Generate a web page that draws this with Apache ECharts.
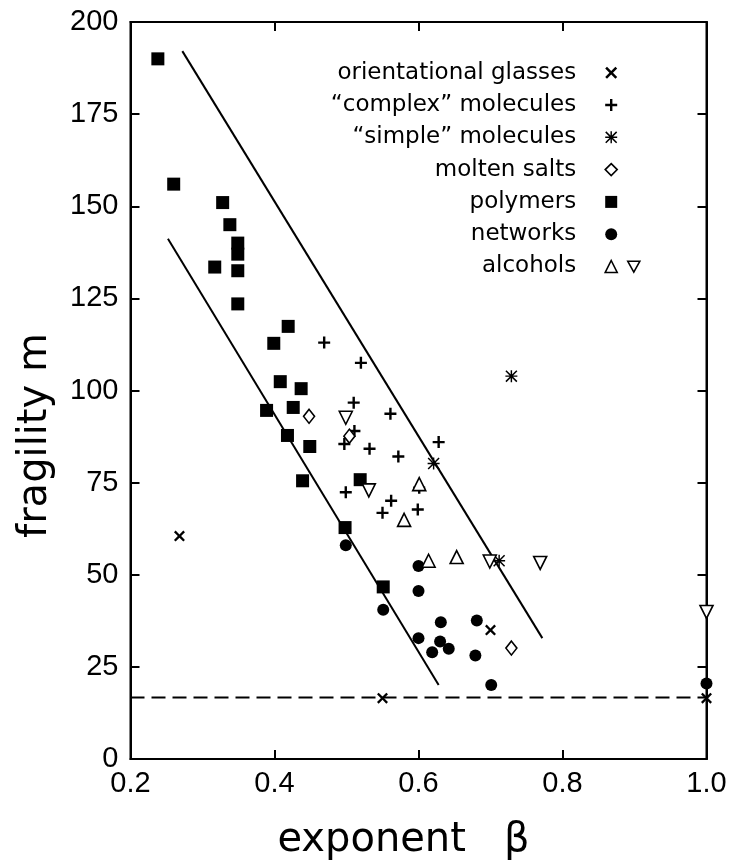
<!DOCTYPE html>
<html>
<head>
<meta charset="utf-8">
<script src="https://cdn.jsdelivr.net/npm/echarts/dist/echarts.min.js"></script>
<style>
html,body{margin:0;padding:0;background:#fff;}
#chart{width:730px;height:867px;}
</style>
</head>
<body>
<div id="chart"></div>
<script>
// ---- data (beta, fragility m) ----
var orientationalGlasses = [[0.268,60.5],[0.198,14.2],[0.550,16.5],[0.700,35.0],[1.0,16.5]];
var complexMolecules = [[0.469,113.0],[0.520,107.5],[0.510,96.7],[0.561,93.7],[0.628,86.0],[0.511,89.0],
  [0.497,85.5],[0.532,84.2],[0.572,82.1],[0.499,72.4],[0.601,73.6],[0.562,70.1],[0.550,66.8],[0.599,67.7]];
var simpleMolecules = [[0.729,103.9],[0.621,80.2],[0.712,53.8]];
var moltenSalts = [[0.448,93.0],[0.504,87.6],[0.729,30.1]];
var polymers = [[0.238,190],[0.260,156],[0.328,151],[0.338,145],[0.349,140],[0.349,137],[0.317,133.5],
  [0.349,132.5],[0.349,123.5],[0.419,117.4],[0.399,112.8],[0.408,102.4],[0.437,100.5],[0.389,94.6],
  [0.426,95.4],[0.418,87.8],[0.449,84.8],[0.439,75.5],[0.519,75.8],[0.498,62.8],[0.551,46.7]];
var networks = [[0.499,58.0],[0.551,40.5],[0.600,52.4],[0.600,45.6],[0.600,32.8],[0.631,37.1],[0.619,29.0],
  [0.630,31.9],[0.642,29.9],[0.681,37.6],[0.679,28.1],[0.701,20.1],[1.0,20.5]];
var alcoholsUp = [[0.601,74.6],[0.580,64.9],[0.614,53.8],[0.653,54.8]];
var alcoholsDown = [[0.499,92.6],[0.531,72.9],[0.699,53.6],[0.769,53.2],[1.0,39.9]];
var upperBound = [[0.272,192.1],[0.772,32.8]];
var lowerBound = [[0.252,141.2],[0.628,20.1]];
var limitLine = [[0.2,16.7],[1.0,16.7]];

var names = ['orientational glasses','“complex” molecules','“simple” molecules','molten salts','polymers','networks','alcohols'];
var xTicks = {min:0.2, max:1.0, interval:0.2};
var yTicks = {min:0, max:200, interval:25};

// ---- symbols ----
var SYM_X = 'path://M0,1.5L1.5,0L5,3.5L8.5,0L10,1.5L6.5,5L10,8.5L8.5,10L5,6.5L1.5,10L0,8.5L3.5,5Z';
var SYM_PLUS = 'path://M4,0H6V4H10V6H6V10H4V6H0V4H4Z';
var SYM_AST = 'path://M4.4,0H5.6V10H4.4Z M0,4.4H10V5.6H0Z M0,0.9L0.9,0L10,9.1L9.1,10Z M9.1,0L10,0.9L0.9,10L0,9.1Z';
var SYM_DOWN = 'path://M0,0L10,0L5,9Z';

var black = '#000';
var hollow = {color:'#fff', borderColor:black, borderWidth:1.6, opacity:1};
var solid = {color:black, opacity:1};

var chart = echarts.init(document.getElementById('chart'), null, {renderer:'canvas'});

function axisCommon(extra){
  var o = {
    type:'value',
    show:true,
    axisLine:{show:true, onZero:false, lineStyle:{color:black, width:2, opacity:1}},
    axisTick:{show:true, inside:true, length:9, lineStyle:{color:black, width:2, opacity:1}},
    splitLine:{show:false}
  };
  for (var k in extra) o[k] = extra[k];
  return o;
}

function scatter(name, data, symbol, size, style){
  return {type:'scatter', name:name, data:data, symbol:symbol, symbolSize:size,
    itemStyle:style, z:3, emphasis:{disabled:true}};
}

var option = {
  animation:false,
  backgroundColor:'#fff',
  grid:{left:130.5, right:23.5, top:22, bottom:108, show:true, borderColor:black, borderWidth:2,
        backgroundColor:'transparent'},
  xAxis:[
    axisCommon({min:xTicks.min, max:xTicks.max, interval:xTicks.interval, position:'bottom',
      axisLabel:{color:black, fontSize:29, fontFamily:'Liberation Sans', margin:10,
        formatter:function(v){return v.toFixed(1);}},
      name:'exponent   β', nameLocation:'middle', nameGap:62,
      nameTextStyle:{fontFamily:'DejaVu Sans', fontSize:40, color:black, padding:[0,30,0,0]}}),
    axisCommon({min:xTicks.min, max:xTicks.max, interval:xTicks.interval, position:'top',
      axisLabel:{show:false}})
  ],
  yAxis:[
    axisCommon({min:yTicks.min, max:yTicks.max, interval:yTicks.interval, position:'left',
      axisLabel:{color:black, fontSize:29, fontFamily:'Liberation Sans', margin:12},
      name:'fragility m', nameLocation:'middle', nameGap:75,
      nameTextStyle:{fontFamily:'DejaVu Sans', fontSize:40, color:black, padding:[0,90,0,0]}}),
    axisCommon({min:yTicks.min, max:yTicks.max, interval:yTicks.interval, position:'right',
      axisLabel:{show:false}})
  ],
  legend:[
    {orient:'vertical', align:'right', right:112, top:60.7, padding:0, itemGap:8.3,
     itemWidth:12, itemHeight:12, selectedMode:false,
     textStyle:{fontFamily:'DejaVu Sans', fontSize:23, lineHeight:24, color:black, padding:[0,24,0,0]},
     data:[
       {name:names[0], icon:SYM_X, itemStyle:solid},
       {name:names[1], icon:SYM_PLUS, itemStyle:solid},
       {name:names[2], icon:SYM_AST, itemStyle:solid},
       {name:names[3], icon:'diamond', itemStyle:hollow},
       {name:names[4], icon:'rect', itemStyle:solid},
       {name:names[5], icon:'circle', itemStyle:solid},
       {name:names[6], icon:'triangle', itemStyle:hollow}
     ]},
    {orient:'vertical', align:'left', left:627, top:254.7, padding:0,
     itemWidth:12, itemHeight:12, selectedMode:false,
     formatter:function(){return ' ';},
     textStyle:{fontFamily:'DejaVu Sans', fontSize:23, lineHeight:24, color:black},
     data:[{name:'alcohols ▽', icon:SYM_DOWN, itemStyle:hollow}]}
  ],
  series:[
    {type:'line', name:'upper', data:upperBound, symbol:'none', z:1, silent:true,
     lineStyle:{color:black, width:2}},
    {type:'line', name:'lower', data:lowerBound, symbol:'none', z:1, silent:true,
     lineStyle:{color:black, width:2}},
    {type:'line', name:'limit', data:limitLine, symbol:'none', z:1, silent:true,
     lineStyle:{color:black, width:2, type:[14,7]}},
    scatter(names[0], orientationalGlasses, SYM_X, 11, solid),
    scatter(names[1], complexMolecules, SYM_PLUS, 12, solid),
    scatter(names[2], simpleMolecules, SYM_AST, 12, solid),
    scatter(names[3], moltenSalts, 'diamond', [11,14], hollow),
    scatter(names[4], polymers, 'rect', 13, solid),
    scatter(names[5], networks, 'circle', 12, solid),
    scatter(names[6], alcoholsUp, 'triangle', 13, hollow),
    scatter('alcohols ▽', alcoholsDown, SYM_DOWN, 13, hollow)
  ]
};
chart.setOption(option);
</script>
</body>
</html>
